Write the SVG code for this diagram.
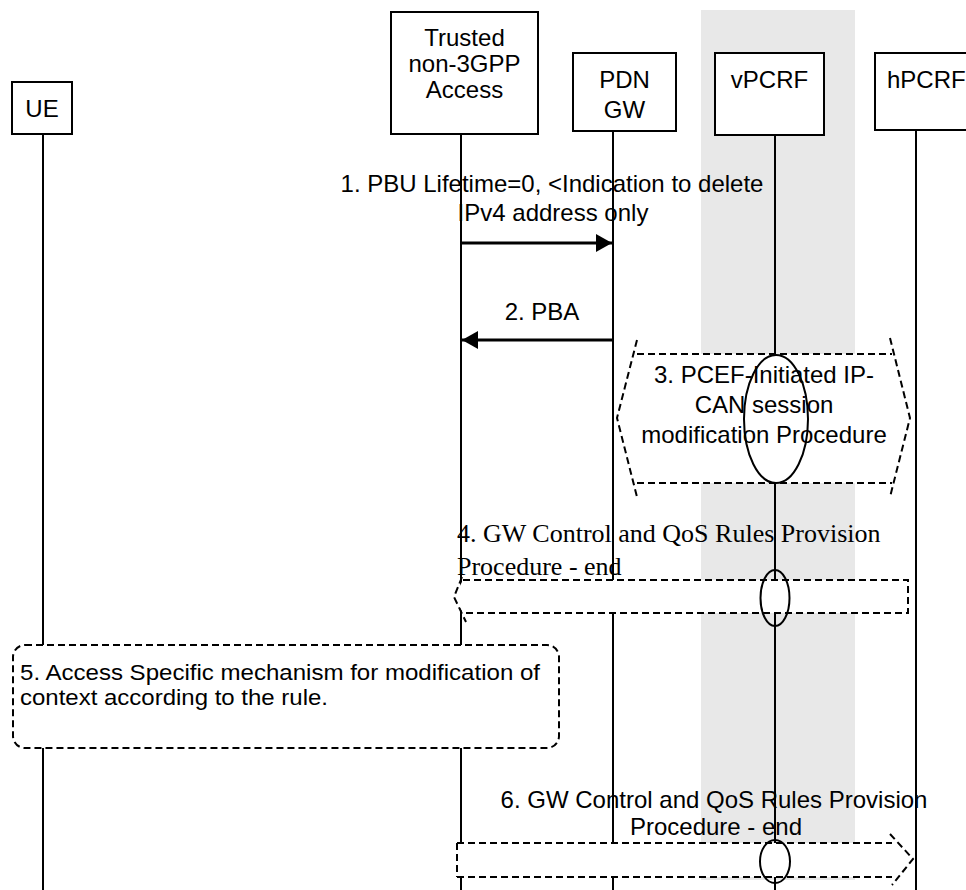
<svg xmlns="http://www.w3.org/2000/svg" width="966" height="890" viewBox="0 0 966 890">
<style>
.box{fill:#fff;stroke:#000;stroke-width:2}
.life{stroke:#000;stroke-width:2;fill:none}
.t{font-family:"Liberation Sans",Arial,sans-serif;font-size:24px;fill:#000}
.t5{font-family:"Liberation Sans",Arial,sans-serif;font-size:22.5px;fill:#000}
.ts{font-family:"Liberation Serif","Times New Roman",serif;font-size:26px;fill:#000}
.mid{text-anchor:middle}
.dash{fill:none;stroke:#000;stroke-width:2;stroke-dasharray:7 4}
.wfill{fill:#fff;stroke:none}
.ell{fill:none;stroke:#000;stroke-width:2}
.msg{stroke:#000;stroke-width:3;fill:none}
</style>
<defs>
<marker id="ah" markerUnits="userSpaceOnUse" markerWidth="16" markerHeight="18" refX="16" refY="9" orient="auto">
<path d="M0,0 L16,9 L0,18 z" fill="#000"/>
</marker>
</defs>
<rect x="701" y="10" width="154" height="870" fill="#e8e8e8"/>
<g id="lifelines">
<line class="life" x1="43" y1="134" x2="43" y2="890"/>
<line class="life" x1="461" y1="134" x2="461" y2="890"/>
<line class="life" x1="613" y1="131" x2="613" y2="890"/>
<line class="life" x1="775" y1="135" x2="775" y2="890"/>
<line class="life" x1="916" y1="130" x2="916" y2="890"/>
</g>
<g id="node-ue">
<rect class="box" x="12" y="82" width="60" height="52"/>
<text class="t mid" x="42" y="117">UE</text>
</g>
<g id="node-trusted">
<rect class="box" x="391" y="12" width="147" height="122"/>
<text class="t mid" x="464.5" y="46">Trusted</text>
<text class="t mid" x="464.5" y="72">non-3GPP</text>
<text class="t mid" x="464.5" y="98">Access</text>
</g>
<g id="node-pdngw">
<rect class="box" x="573" y="53" width="103" height="78"/>
<text class="t mid" x="624.5" y="88">PDN</text>
<text class="t mid" x="624.5" y="118">GW</text>
</g>
<g id="node-vpcrf">
<rect class="box" x="715" y="53" width="109" height="82"/>
<text class="t mid" x="769.5" y="88">vPCRF</text>
</g>
<g id="node-hpcrf">
<rect class="box" x="875" y="53" width="100" height="77"/>
<text class="t" x="887" y="88">hPCRF</text>
</g>
<g id="connectors">
<line class="msg" x1="461" y1="243" x2="612" y2="243" marker-end="url(#ah)"/>
<line class="msg" x1="613" y1="340" x2="462" y2="340" marker-end="url(#ah)"/>
</g>
<g id="msg-labels">
<text class="t mid" x="552" y="192">1. PBU Lifetime=0, &lt;Indication to delete</text>
<text class="t mid" x="553" y="221">IPv4 address only</text>
<text class="t mid" x="542" y="320">2. PBA</text>
</g>
<g id="step3">
<path class="wfill" d="M637,354 L892,354 L910,418 L892,483 L637,483 L617,418 z"/>
<path class="dash" d="M637,354 L892,354 M637,483 L892,483 M637,340 L617,418 L637,497 M890,338 L910,418 L890,497"/>
<ellipse class="ell" cx="776" cy="419" rx="32" ry="64"/>
<text class="t mid" x="764" y="383">3. PCEF-Initiated IP-</text>
<text class="t mid" x="764" y="413">CAN session</text>
<text class="t mid" x="764" y="443">modification Procedure</text>
</g>
<g id="step4">
<path class="wfill" d="M463,580 L908,580 L908,613 L463,613 L454,597 z"/>
<path class="dash" d="M463,580 L908,580 L908,613 L463,613 M462,577 L454,597 L466,622"/>
<ellipse class="ell" cx="775" cy="598" rx="14.5" ry="28"/>
<text class="ts" x="457" y="542">4. GW Control and QoS Rules Provision</text>
<text class="ts" x="457" y="575">Procedure - end</text>
</g>
<g id="step5">
<rect class="wfill" x="13" y="645" width="546" height="103" rx="12" ry="12"/>
<rect class="dash" x="13" y="645" width="546" height="103" rx="12" ry="12"/>
<text class="t5" x="20" y="680" textLength="520" lengthAdjust="spacingAndGlyphs">5. Access Specific mechanism for modification of</text>
<text class="t5" x="20" y="705" textLength="308" lengthAdjust="spacingAndGlyphs">context according to the rule.</text>
</g>
<g id="step6">
<path class="wfill" d="M457,843 L892,843 L913,859 L892,877 L457,877 z"/>
<path class="dash" d="M457,843 L892,843 M457,877 L892,877 M457,843 L457,877 M890,834 L913,859 L892,885"/>
<ellipse class="ell" cx="775" cy="861.5" rx="15" ry="21.5"/>
<text class="t mid" x="714" y="808">6. GW Control and QoS Rules Provision</text>
<text class="t mid" x="716" y="835">Procedure - end</text>
</g>
</svg>
